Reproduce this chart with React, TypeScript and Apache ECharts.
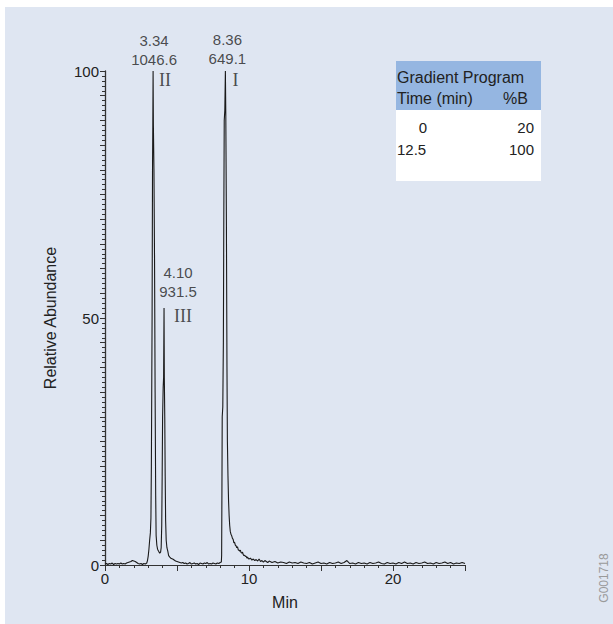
import React, { useEffect, useRef } from "react";
import * as echarts from "echarts";

// ---- Data ----
const xTickLabels = [0, 10, 20];
const yTickLabels = [0, 50, 100];

const traceStart: [number, number][] = [
  [0, 0.2], [0.1, 0.3], [0.2, 0.1], [0.3, 0.3], [0.4, 0.2], [0.5, 0.4], [0.6, 0.1], [0.7, 0.3],
  [0.8, 0.2], [0.9, 0.3], [1.0, 0.2], [1.1, 0.4], [1.2, 0.2], [1.3, 0.3], [1.4, 0.2], [1.5, 0.4],
  [1.6, 0.5], [1.7, 0.6], [1.8, 0.7], [1.9, 0.9], [2.0, 0.8], [2.1, 0.7], [2.2, 0.5], [2.3, 0.3],
  [2.4, 0.2], [2.5, 0.3], [2.6, 0.1], [2.7, 0.3], [2.8, 0.2], [2.9, 0.4],
];

const tracePeaksIIandIII: [number, number][] = [
  [2.95, 0.9], [3.0, 1.8], [3.05, 3.2], [3.1, 5.0], [3.15, 6.5], [3.19, 9.5], [3.22, 20], [3.25, 38],
  [3.27, 50], [3.3, 80], [3.32, 89], [3.34, 100], [3.36, 89], [3.4, 80], [3.44, 62], [3.48, 35],
  [3.52, 14], [3.55, 6], [3.6, 4], [3.65, 3.2], [3.72, 2.8], [3.8, 2.4], [3.86, 2.6], [3.9, 3.5],
  [3.94, 8], [3.97, 18], [4.0, 30], [4.04, 36], [4.07, 38], [4.1, 52], [4.12, 38], [4.15, 30],
  [4.18, 18], [4.21, 9], [4.25, 5], [4.3, 3.5], [4.36, 2.8], [4.42, 1.9], [4.5, 1.6], [4.6, 1.3],
  [4.7, 1.2], [4.8, 1.0], [4.9, 0.8], [5.0, 0.7], [5.1, 0.6], [5.2, 0.5], [5.3, 0.4], [5.4, 0.5],
  [5.5, 0.3],
];

const traceMiddle: [number, number][] = [
  [5.6, 0.4], [5.7, 0.2], [5.8, 0.3], [5.9, 0.5], [6.0, 0.2], [6.1, 0.3], [6.2, 0.4], [6.3, 0.2],
  [6.4, 0.3], [6.5, 0.1], [6.6, 0.4], [6.7, 0.3], [6.8, 0.2], [6.9, 0.4], [7.0, 0.3], [7.1, 0.5],
  [7.2, 0.2], [7.3, 0.3], [7.4, 0.2], [7.5, 0.4], [7.6, 0.3], [7.7, 0.2], [7.8, 0.4], [7.9, 0.3],
  [8.0, 0.5], [8.08, 0.6],
];

const tracePeakI: [number, number][] = [
  [8.1, 2], [8.12, 15], [8.14, 30], [8.18, 32], [8.22, 45], [8.25, 70], [8.28, 90], [8.32, 92],
  [8.36, 100], [8.39, 91], [8.43, 70], [8.47, 40], [8.5, 25], [8.54, 18], [8.58, 13], [8.62, 10],
  [8.66, 8], [8.7, 6.8], [8.75, 6.2], [8.8, 5.9], [8.85, 5.4], [8.9, 5.2], [8.95, 4.5], [9.0, 4.6],
  [9.05, 4.0], [9.1, 3.9], [9.15, 3.5], [9.2, 3.7], [9.25, 3.1], [9.3, 3.0], [9.35, 2.8], [9.4, 3.0],
  [9.45, 2.5], [9.5, 2.4], [9.55, 2.6], [9.6, 2.1], [9.65, 1.9], [9.7, 2.0], [9.75, 1.7], [9.8, 1.8],
  [9.85, 1.4], [9.9, 1.6], [9.95, 1.3], [10.0, 1.2], [10.1, 1.4], [10.2, 1.0], [10.3, 1.2], [10.4, 0.9],
  [10.5, 1.1], [10.6, 0.8], [10.7, 1.2], [10.8, 0.7], [10.9, 0.9], [11.0, 0.6], [11.1, 0.9], [11.2, 0.7],
  [11.3, 0.5],
];

const traceTail: [number, number][] = [
  [11.4, 0.8], [11.6, 0.5], [11.8, 0.7], [12.0, 0.4], [12.2, 0.6], [12.4, 0.5], [12.6, 0.3], [12.8, 0.6],
  [13.0, 0.4], [13.2, 0.5], [13.4, 0.3], [13.6, 0.6], [13.8, 0.4], [14.0, 0.3], [14.2, 0.5], [14.4, 0.2],
  [14.6, 0.4], [14.8, 0.6], [15.0, 0.3], [15.2, 0.4], [15.4, 0.2], [15.6, 0.5], [15.8, 0.3], [16.0, 0.4],
  [16.2, 0.6], [16.4, 0.3], [16.6, 0.5], [16.8, 0.9], [17.0, 0.3], [17.2, 0.4], [17.4, 0.2], [17.6, 0.5],
  [17.8, 0.3], [18.0, 0.4], [18.2, 0.2], [18.4, 0.5], [18.6, 0.3], [18.8, 0.4], [19.0, 0.6], [19.2, 0.3],
  [19.4, 0.2], [19.6, 0.5], [19.8, 0.3], [20.0, 0.4], [20.2, 0.2], [20.4, 0.5], [20.6, 0.3], [20.8, 0.6],
  [21.0, 0.3], [21.2, 0.4], [21.4, 0.2], [21.6, 0.5], [21.8, 0.3], [22.0, 0.4], [22.2, 0.6], [22.4, 0.3],
  [22.6, 0.4], [22.8, 0.2], [23.0, 0.5], [23.2, 0.3], [23.4, 0.4], [23.6, 0.6], [23.8, 0.3], [24.0, 0.5],
  [24.2, 0.2], [24.4, 0.4], [24.6, 0.3], [24.8, 0.5], [25.0, 0.3],
];

const peakTimes = [3.34, 8.36, 4.10];
const peakHeights = [100, 100, 52];
const peakAreas = ["1046.6", "649.1", "931.5"];
const peakNames = ["II", "I", "III"];

const gradientTitle = "Gradient Program";
const gradientColumns = ["Time (min)", "%B"];
const gradientTimes = ["0", "12.5"];
const gradientPercentB = [20, 100];

const figureId = "G001718";

// ---- Styles ----
const SANS = "'Liberation Sans', Arial, Helvetica, sans-serif";
const SERIF = "'Liberation Serif', 'Times New Roman', serif";
const TEXT = "#222222";
const AXIS = "#333333";
const numberOffsets: [number, number][] = [[1, -21], [2, -22], [14, -26]];
const nameOffsets: [number, number][] = [[12, 9], [10, 9], [19, 8]];

export default function App() {
  const ref = useRef<HTMLDivElement>(null);

  useEffect(() => {
    if (!ref.current) return;
    const chart = echarts.init(ref.current, null, { renderer: "svg" });

    const trace = [
      ...traceStart,
      ...tracePeaksIIandIII,
      ...traceMiddle,
      ...tracePeakI,
      ...traceTail,
    ];

    const tableX = 396;
    const tableW = 145;
    const tableTop = 61;
    const headerH = 49;
    const bodyH = 71;

    const tableRows: any[] = [];
    gradientTimes.forEach((t, i) => {
      const y = 127 + i * 22;
      tableRows.push({
        type: "text",
        style: {
          text: t,
          x: i === 0 ? 423 : 397,
          y,
          align: i === 0 ? "center" : "left",
          verticalAlign: "middle",
          font: `15px ${SANS}`,
          fill: TEXT,
        },
        z: 20,
      });
      tableRows.push({
        type: "text",
        style: {
          text: String(gradientPercentB[i]),
          x: 534,
          y,
          align: "right",
          verticalAlign: "middle",
          font: `15px ${SANS}`,
          fill: TEXT,
        },
        z: 20,
      });
    });

    const option: any = {
      animation: false,
      grid: { left: 105, top: 71, right: 148, bottom: 59, containLabel: false },
      xAxis: {
        type: "value",
        min: 0,
        max: 25,
        interval: 5,
        name: "Min",
        nameLocation: "middle",
        nameGap: 29,
        nameTextStyle: { fontFamily: SANS, fontSize: 16, color: TEXT },
        axisLine: { show: true, lineStyle: { color: AXIS, width: 1 } },
        axisTick: { show: true, length: 6, lineStyle: { color: AXIS, width: 1 } },
        minorTick: { show: true, splitNumber: 5, length: 3, lineStyle: { color: AXIS, width: 1 } },
        axisLabel: {
          fontFamily: SANS,
          fontSize: 15,
          color: TEXT,
          margin: 6,
          formatter: (v: number) => (xTickLabels.includes(v) ? String(v) : ""),
        },
        splitLine: { show: false },
      },
      yAxis: {
        type: "value",
        min: 0,
        max: 100,
        interval: 5,
        name: "Relative Abundance",
        nameLocation: "middle",
        nameGap: 47,
        nameRotate: 90,
        nameTextStyle: { fontFamily: SANS, fontSize: 16, color: TEXT },
        axisLine: { show: true, lineStyle: { color: AXIS, width: 1.3 } },
        axisTick: { show: true, length: 5, lineStyle: { color: AXIS, width: 1 } },
        minorTick: { show: true, splitNumber: 5, length: 3, lineStyle: { color: AXIS, width: 1 } },
        axisLabel: {
          fontFamily: SANS,
          fontSize: 15,
          color: TEXT,
          margin: 6,
          formatter: (v: number) => (yTickLabels.includes(v) ? String(v) : ""),
        },
        splitLine: { show: false },
      },
      graphic: [
        {
          type: "rect",
          shape: { x: 5, y: 7, width: 608, height: 617 },
          style: { fill: "#dfe6f2" },
          z: -10,
          silent: true,
        },
        {
          type: "rect",
          shape: { x: tableX, y: tableTop, width: tableW, height: headerH },
          style: { fill: "#95b6e1" },
          z: 10,
        },
        {
          type: "rect",
          shape: { x: tableX, y: tableTop + headerH, width: tableW, height: bodyH },
          style: { fill: "#ffffff" },
          z: 10,
        },
        {
          type: "text",
          style: {
            text: gradientTitle,
            x: 397,
            y: 77,
            align: "left",
            verticalAlign: "middle",
            font: `16px ${SANS}`,
            fill: TEXT,
          },
          z: 20,
        },
        {
          type: "text",
          style: {
            text: gradientColumns[0],
            x: 397,
            y: 98,
            align: "left",
            verticalAlign: "middle",
            font: `16px ${SANS}`,
            fill: TEXT,
          },
          z: 20,
        },
        {
          type: "text",
          style: {
            text: gradientColumns[1],
            x: 528,
            y: 98,
            align: "right",
            verticalAlign: "middle",
            font: `16px ${SANS}`,
            fill: TEXT,
          },
          z: 20,
        },
        ...tableRows,
        {
          type: "text",
          x: 604,
          y: 578,
          rotation: Math.PI / 2,
          style: {
            text: figureId,
            x: 0,
            y: 0,
            align: "center",
            verticalAlign: "middle",
            font: `12px ${SANS}`,
            fill: "#9a9a9a",
          },
          z: 20,
        },
      ],
      series: [
        {
          type: "line",
          data: trace,
          showSymbol: false,
          symbol: "none",
          lineStyle: { color: "#1a1a1a", width: 1.1 },
          z: 3,
          silent: true,
        },
        {
          type: "scatter",
          symbolSize: 1,
          itemStyle: { color: "rgba(0,0,0,0)" },
          silent: true,
          z: 4,
          data: peakTimes.map((t, i) => ({
            value: [t, peakHeights[i]],
            label: {
              show: true,
              position: "inside",
              offset: numberOffsets[i],
              formatter: `${t.toFixed(2)}\n${peakAreas[i]}`,
              fontFamily: SANS,
              fontSize: 15,
              lineHeight: 19,
              color: TEXT,
              align: "center",
            },
          })),
        },
        {
          type: "scatter",
          symbolSize: 1,
          itemStyle: { color: "rgba(0,0,0,0)" },
          silent: true,
          z: 4,
          data: peakTimes.map((t, i) => ({
            value: [t, peakHeights[i]],
            label: {
              show: true,
              position: "inside",
              offset: nameOffsets[i],
              formatter: peakNames[i],
              fontFamily: SERIF,
              fontSize: 18,
              color: TEXT,
            },
          })),
        },
      ],
    };

    chart.setOption(option);
    return () => chart.dispose();
  }, []);

  return (
    <div
      ref={ref}
      style={{ position: "fixed", left: 0, top: 0, width: 613, height: 624, background: "#ffffff" }}
    />
  );
}
